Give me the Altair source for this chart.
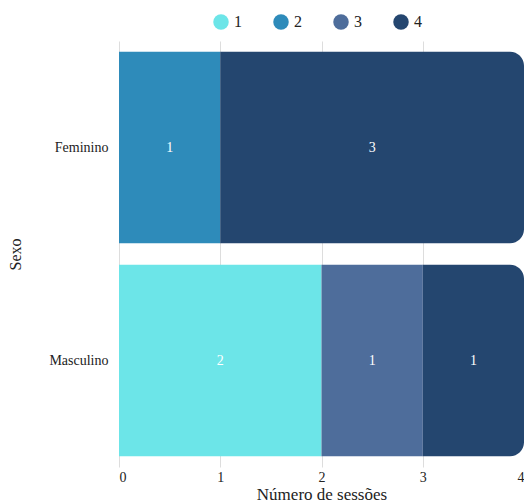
import altair as alt
import pandas as pd

sexo = ["Feminino", "Feminino", "Masculino", "Masculino", "Masculino"]
sessoes = ["2", "4", "1", "3", "4"]
contagem = [1, 3, 2, 1, 1]

categorias = ["1", "2", "3", "4"]
cores = ["#6ce5e8", "#2e8bba", "#4e6d9b", "#24466f"]

df = pd.DataFrame({"Sexo": sexo, "Sessoes": sessoes, "Contagem": contagem})
df["ordem"] = df["Sessoes"].astype(int)

FONT = "Liberation Serif"

base = alt.Chart(df).transform_stack(
    stack="Contagem", groupby=["Sexo"], as_=["x0", "x1"],
    sort=[alt.SortField("ordem", order="ascending")]
)

y_enc = alt.Y("Sexo:N", title="Sexo", sort=["Feminino", "Masculino"],
              scale=alt.Scale(paddingInner=0.1, paddingOuter=0.05),
              axis=alt.Axis(titleFontSize=16))
x_enc = alt.X("x0:Q", title="Número de sessões",
              scale=alt.Scale(domain=[0, 4], nice=False),
              axis=alt.Axis(values=[0, 1, 2, 3, 4], format="d", titleFontSize=17))
color_enc = alt.Color("Sessoes:N", scale=alt.Scale(domain=categorias, range=cores),
                      legend=alt.Legend(title=None, orient="none", direction="horizontal",
                                        legendX=94, legendY=-27,
                                        symbolType="circle", symbolSize=240,
                                        labelFontSize=16, labelFont=FONT, labelColor="#222",
                                        symbolStrokeWidth=0, columnPadding=31,
                                        labelOffset=5))

bars = base.transform_filter("datum.Sessoes != '4'").mark_bar().encode(
    y=y_enc, x=x_enc, x2="x1:Q", color=color_enc
)
last = base.transform_filter("datum.Sessoes == '4'").mark_bar(
    cornerRadiusTopRight=14, cornerRadiusBottomRight=14
).encode(y=y_enc, x=x_enc, x2="x1:Q", color=color_enc)
text = base.transform_calculate(mid="(datum.x0 + datum.x1) / 2").mark_text(
    color="white", font=FONT, fontSize=14
).encode(y=alt.Y("Sexo:N", sort=["Feminino", "Masculino"]), x=alt.X("mid:Q"),
         text=alt.Text("Contagem:Q"))

chart = alt.layer(bars, last, text).properties(
    width=405, height=426,
    autosize=alt.AutoSizeParams(type="none"),
    padding={"left": 111, "top": 33, "right": 0, "bottom": 35}
).configure_axis(
    labelFont=FONT, titleFont=FONT, labelFontSize=14,
    labelColor="#222", titleColor="#222", titleFontWeight="normal",
    domain=False, ticks=False, gridColor="#dddddd"
).configure_axisY(
    grid=False, labelPadding=11, titlePadding=25
).configure_axisX(
    labelPadding=3, titlePadding=2
).configure_view(stroke=None)

chart.save("out.html", embed_options={"renderer": "svg", "actions": False})
